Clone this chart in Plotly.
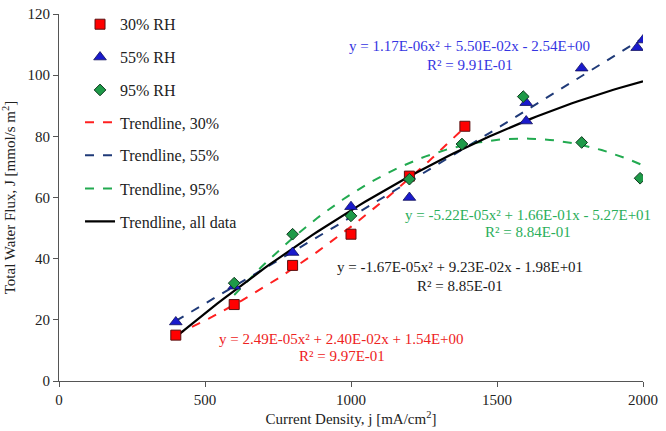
import plotly.graph_objects as go
import numpy as np

# Data points
x30 = [400, 600, 800, 1000, 1200, 1390]
y30 = [15, 25, 37.8, 48, 67, 83.3]

x55 = [400, 600, 800, 1000, 1200, 1600, 1600, 1790, 1980, 2000]
y55 = [19.3, 31, 42, 57, 60, 91, 85, 102.3, 109, 111.5]

x95 = [600, 800, 1000, 1200, 1380, 1590, 1790, 1990]
y95 = [32, 48, 54, 66, 77.5, 93, 78, 66.3]

# Trendline coefficients (a, b, c) as printed on the chart, and x ranges
coef30 = [2.49e-05, 2.40e-02, 1.54]
coef55 = [1.17e-06, 5.50e-02, -2.54]
coef95 = [-5.22e-05, 1.66e-01, -52.7]
coefall = [-1.67e-05, 9.23e-02, -19.8]
range30 = [400, 1390]
range55 = [400, 2000]
range95 = [600, 2000]
rangeall = [400, 2000]

eq30 = ["y = 2.49E-05x² + 2.40E-02x + 1.54E+00", "R² = 9.97E-01"]
eq55 = ["y = 1.17E-06x² + 5.50E-02x - 2.54E+00", "R² = 9.91E-01"]
eq95 = ["y = -5.22E-05x² + 1.66E-01x - 5.27E+01", "R² = 8.84E-01"]
eqall = ["y = -1.67E-05x² + 9.23E-02x - 1.98E+01", "R² = 8.85E-01"]

FONT = "Liberation Serif, Times New Roman, serif"


def curve(coef, rng):
    xs = np.linspace(rng[0], rng[1], 80)
    return xs, coef[0] * xs ** 2 + coef[1] * xs + coef[2]


fig = go.Figure()

cx, cy = curve(coef30, range30)
fig.add_trace(go.Scatter(x=cx, y=cy, mode="lines", name="Trendline, 30%", legend="legend4",
                         line=dict(color="#FF2020", width=2, dash="dash")))
cx, cy = curve(coef55, range55)
fig.add_trace(go.Scatter(x=cx, y=cy, mode="lines", name="Trendline, 55%", legend="legend5",
                         line=dict(color="#1F3A78", width=2, dash="dash")))
cx, cy = curve(coef95, range95)
fig.add_trace(go.Scatter(x=cx, y=cy, mode="lines", name="Trendline, 95%", legend="legend6",
                         line=dict(color="#22AA50", width=2, dash="dash")))
cx, cy = curve(coefall, rangeall)
fig.add_trace(go.Scatter(x=cx, y=cy, mode="lines", name="Trendline, all data", legend="legend7",
                         line=dict(color="#000000", width=2.2)))

fig.add_trace(go.Scatter(x=x30, y=y30, mode="markers", name="30% RH", legend="legend",
                         marker=dict(symbol="square", size=10, color="#FF0000",
                                     line=dict(color="#5a1010", width=1))))
fig.add_trace(go.Scatter(x=x55, y=y55, mode="markers", name="55% RH", legend="legend2",
                         marker=dict(symbol="triangle-up", size=11, color="#1A1ACC",
                                     line=dict(color="#10105a", width=0.8))))
fig.add_trace(go.Scatter(x=x95, y=y95, mode="markers", name="95% RH", legend="legend3",
                         marker=dict(symbol="diamond", size=9, color="#1E9A48",
                                     line=dict(color="#103a20", width=1))))

annots = [
    (eq55, 1407, 109.5, 103.3, "#3535E2"),
    (eq95, 1606, 54.3, 48.8, "#2AAE5A"),
    (eqall, 1373, 37.2, 31.0, "#1a1a1a"),
    (eq30, 969, 13.7, 8.3, "#EE2222"),
]
annotations = []
for lines, ax, y1, y2, col in annots:
    annotations.append(dict(x=ax, y=y1, text=lines[0], showarrow=False, xref="x", yref="y",
                            font=dict(family=FONT, size=15, color=col)))
    annotations.append(dict(x=ax, y=y2, text=lines[1], showarrow=False, xref="x", yref="y",
                            font=dict(family=FONT, size=15, color=col)))

# legend item centres (pixels from top) -> paper coordinates
item_px = [17.5, 51, 84.5, 117.5, 151, 185, 218.5]
plot_top, plot_bottom = 7, 381
legend_layout = {}
for i, py in enumerate(item_px):
    key = "legend" if i == 0 else f"legend{i + 1}"
    legend_layout[key] = dict(
        x=0.036, y=(plot_bottom - py) / (plot_bottom - plot_top),
        xanchor="left", yanchor="middle",
        font=dict(family=FONT, size=16, color="#222222"),
        bgcolor="rgba(0,0,0,0)", itemwidth=30,
    )

fig.update_layout(
    width=666, height=431,
    margin=dict(l=59, r=23, t=7, b=50),
    paper_bgcolor="white", plot_bgcolor="white",
    font=dict(family=FONT, size=14, color="#222222"),
    showlegend=True,
    annotations=annotations,
    xaxis=dict(range=[0, 2000], tickvals=[0, 500, 1000, 1500, 2000], automargin=False,
               showline=True, linecolor="#555555", linewidth=1.2,
               ticks="outside", ticklen=5, tickcolor="#555555",
               showgrid=False, zeroline=False,
               tickfont=dict(family=FONT, size=15, color="#222222"),
               title=dict(text="Current Density, j [mA/cm<sup>2</sup>]", standoff=6,
                          font=dict(family=FONT, size=15, color="#222222"))),
    yaxis=dict(range=[0, 120.01], tickvals=[0, 20, 40, 60, 80, 100, 120], automargin=False,
               ticktext=["0", "20", "40", "60", "80", "100", "120"],
               showline=True, linecolor="#555555", linewidth=1.2,
               ticks="outside", ticklen=5, tickcolor="#555555",
               showgrid=False, zeroline=False,
               tickfont=dict(family=FONT, size=15, color="#222222"),
               title=dict(text="Total Water Flux, J [mmol/s m<sup>2</sup>]", standoff=8,
                          font=dict(family=FONT, size=15, color="#222222"))),
    **legend_layout,
)

fig.write_html("out.html")
